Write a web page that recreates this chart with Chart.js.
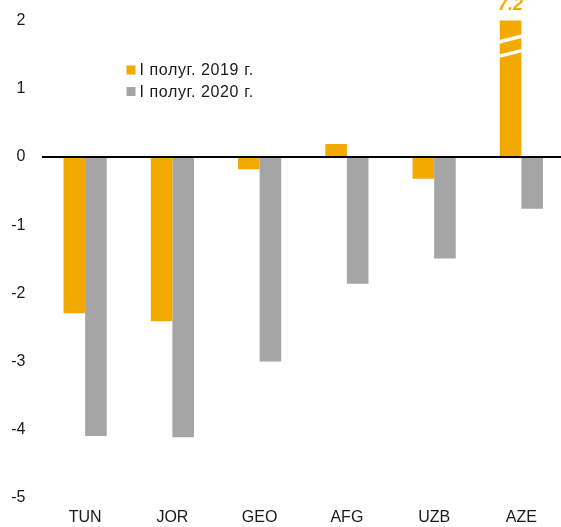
<!DOCTYPE html>
<html>
<head>
<meta charset="utf-8">
<script src="https://cdn.jsdelivr.net/npm/chart.js@4"></script>
<style>
    html, body { margin: 0; padding: 0; background: #fff; }
    #wrap { width: 561px; height: 527px; overflow: hidden; position: relative; }
    #barChart { position: absolute; left: 0; top: -5px; }
</style>
</head>
<body>
<div id="wrap">
    <canvas id="barChart" width="565" height="532"></canvas>
</div>
<script>
var categories = ['TUN', 'JOR', 'GEO', 'AFG', 'UZB', 'AZE'];
var h1_2019 = [-2.29, -2.41, -0.18, 0.19, -0.32, 7.2];
var h1_2020 = [-4.09, -4.11, -3.0, -1.86, -1.49, -0.76];
var seriesLabels = ['I полуг. 2019 г.', 'I полуг. 2020 г.'];
var yTicks = [2, 1, 0, -1, -2, -3, -4, -5];

var orange = '#F2A900';
var grey = '#A5A5A5';
var fontFamily = '"Liberation Sans", Arial, sans-serif';

// bars above the axis max get a break mark and their real value on top
var breakPlugin = {
    id: 'breakPlugin',
    afterDatasetsDraw: function(chart) {
        var ctx = chart.ctx;
        var yScale = chart.scales.y;
        var yMax = yScale.max;

        chart.data.datasets.forEach(function(ds, di) {
            var meta = chart.getDatasetMeta(di);
            ds.data.forEach(function(val, i) {
                if (val <= yMax) return;
                var bar = meta.data[i];
                var left = bar.x - bar.width / 2 - 1;
                var right = bar.x + bar.width / 2 + 1;

                ctx.save();
                ctx.strokeStyle = '#fff';
                ctx.lineWidth = 3.5;
                [1.73, 1.52].forEach(function(v) {
                    var py = yScale.getPixelForValue(v);
                    ctx.beginPath();
                    ctx.moveTo(left, py + 3);
                    ctx.lineTo(right, py - 3);
                    ctx.stroke();
                });

                ctx.fillStyle = ds.backgroundColor;
                ctx.font = 'italic bold 18px ' + fontFamily;
                ctx.textAlign = 'center';
                ctx.textBaseline = 'alphabetic';
                ctx.fillText(String(val), bar.x, chart.chartArea.top - 11);
                ctx.restore();
            });
        });
    }
};

// legend drawn inside the plot, top-left (canvas is shifted up 5px)
var legendPlugin = {
    id: 'innerLegend',
    afterDraw: function(chart) {
        var ctx = chart.ctx;
        var x = 126.5, y = 75, row = 21.5;

        ctx.save();
        ctx.font = '16px ' + fontFamily;
        ctx.letterSpacing = '0.6px';
        ctx.textBaseline = 'middle';
        ctx.textAlign = 'left';
        chart.data.datasets.forEach(function(ds, i) {
            var cy = y + i * row;
            ctx.fillStyle = ds.backgroundColor;
            ctx.fillRect(x, cy - 4.5, 9, 9);
            ctx.fillStyle = '#1a1a1a';
            ctx.fillText(ds.label, x + 13, cy + 1);
        });
        ctx.restore();
    }
};

var barChartData = {
    labels: categories,
    datasets: [
        {
            label: seriesLabels[0],
            data: h1_2019,
            backgroundColor: orange
        },
        {
            label: seriesLabels[1],
            data: h1_2020,
            backgroundColor: grey
        }
    ]
};

var barChartOptions = {
    responsive: false,
    animation: false,
    layout: { padding: { top: 14.5, right: 0, left: 0, bottom: 0 } },
    datasets: {
        bar: {
            categoryPercentage: 0.495,
            barPercentage: 1.0,
            borderWidth: 0
        }
    },
    plugins: {
        legend: { display: false },
        tooltip: { enabled: false }
    },
    scales: {
        x: {
            offset: true,
            afterFit: function(scale) { scale.height = 29; },
            grid: { display: false, drawTicks: false },
            border: { display: false },
            ticks: {
                color: '#1a1a1a',
                padding: 10,
                font: { family: fontFamily, size: 16 }
            }
        },
        y: {
            min: -5,
            max: 2,
            afterFit: function(scale) { scale.width = 41.5; },
            afterBuildTicks: function(scale) {
                scale.ticks = yTicks.map(function(v) { return { value: v }; });
            },
            grid: {
                drawTicks: false,
                lineWidth: 2,
                color: function(c) { return c.tick && c.tick.value === 0 ? '#000' : 'rgba(0,0,0,0)'; }
            },
            border: { display: false },
            ticks: {
                color: '#1a1a1a',
                padding: 16,
                font: { family: fontFamily, size: 16 }
            }
        }
    }
};

var barChartCanvas = document.getElementById('barChart').getContext('2d');
var barChart = new Chart(barChartCanvas, {
    type: 'bar',
    data: barChartData,
    options: barChartOptions,
    plugins: [breakPlugin, legendPlugin]
});
</script>
</body>
</html>
